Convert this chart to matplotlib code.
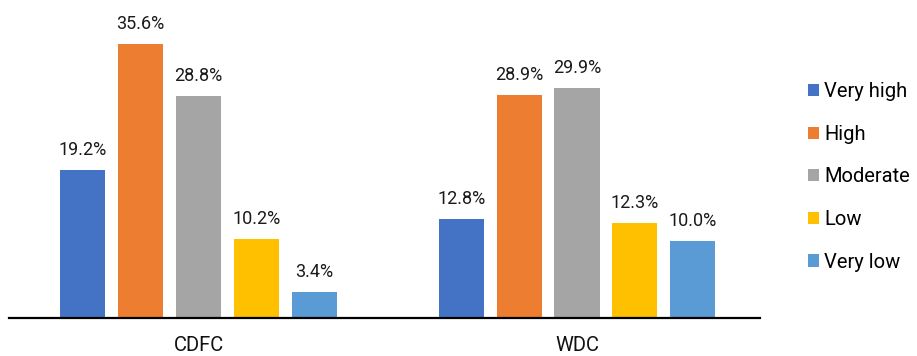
import matplotlib
matplotlib.use("Agg")
import matplotlib.pyplot as plt
import numpy as np

plt.rcParams["font.family"] = ["Roboto", "DejaVu Sans"]

groups = ["CDFC", "WDC"]
levels = ["Very high", "High", "Moderate", "Low", "Very low"]
cdfc = [19.2, 35.6, 28.8, 10.2, 3.4]
wdc = [12.8, 28.9, 29.9, 12.3, 10.0]
colors = ["#4472C4", "#ED7D31", "#A5A5A5", "#FFC000", "#5B9BD5"]

W, H = 917, 356
fig = plt.figure(figsize=(W / 100, H / 100), dpi=100)
# axes placed in pixel terms: left 9, right 760, bottom 318, top 0
ax = fig.add_axes([9 / W, (H - 318) / H, (760 - 9) / W, 318 / H])

x = np.arange(len(groups))
pitch = 0.153
width = 0.119
values = np.array([cdfc, wdc])
for i, (level, color) in enumerate(zip(levels, colors)):
    xs = x + (i - 2) * pitch
    bars = ax.bar(xs, values[:, i], width, color=color, label=level)
    for bar, v in zip(bars, values[:, i]):
        ax.annotate(f"{v:.1f}%", (bar.get_x() + bar.get_width() / 2, v),
                    xytext=(0, 8), textcoords="offset points",
                    ha="center", va="bottom", fontsize=13, color="#1a1a1a")

ax.set_xlim(-0.5007, 1.4835)
ax.set_ylim(0, 41.3)
ax.set_xticks(x)
ax.set_xticklabels(groups, fontsize=14.5, color="#111111")
ax.tick_params(axis="x", length=0, pad=13)
ax.set_yticks([])
for side in ["top", "right", "left"]:
    ax.spines[side].set_visible(False)
ax.spines["bottom"].set_linewidth(1.6)
ax.spines["bottom"].set_color("black")

fig.legend(loc="center left", bbox_to_anchor=(800 / W, 1 - 177 / H),
           frameon=False, fontsize=14.5, handlelength=0.55, handleheight=0.55,
           handletextpad=0.25, labelspacing=1.17, borderaxespad=0)

fig.savefig("out.png", dpi=100)
